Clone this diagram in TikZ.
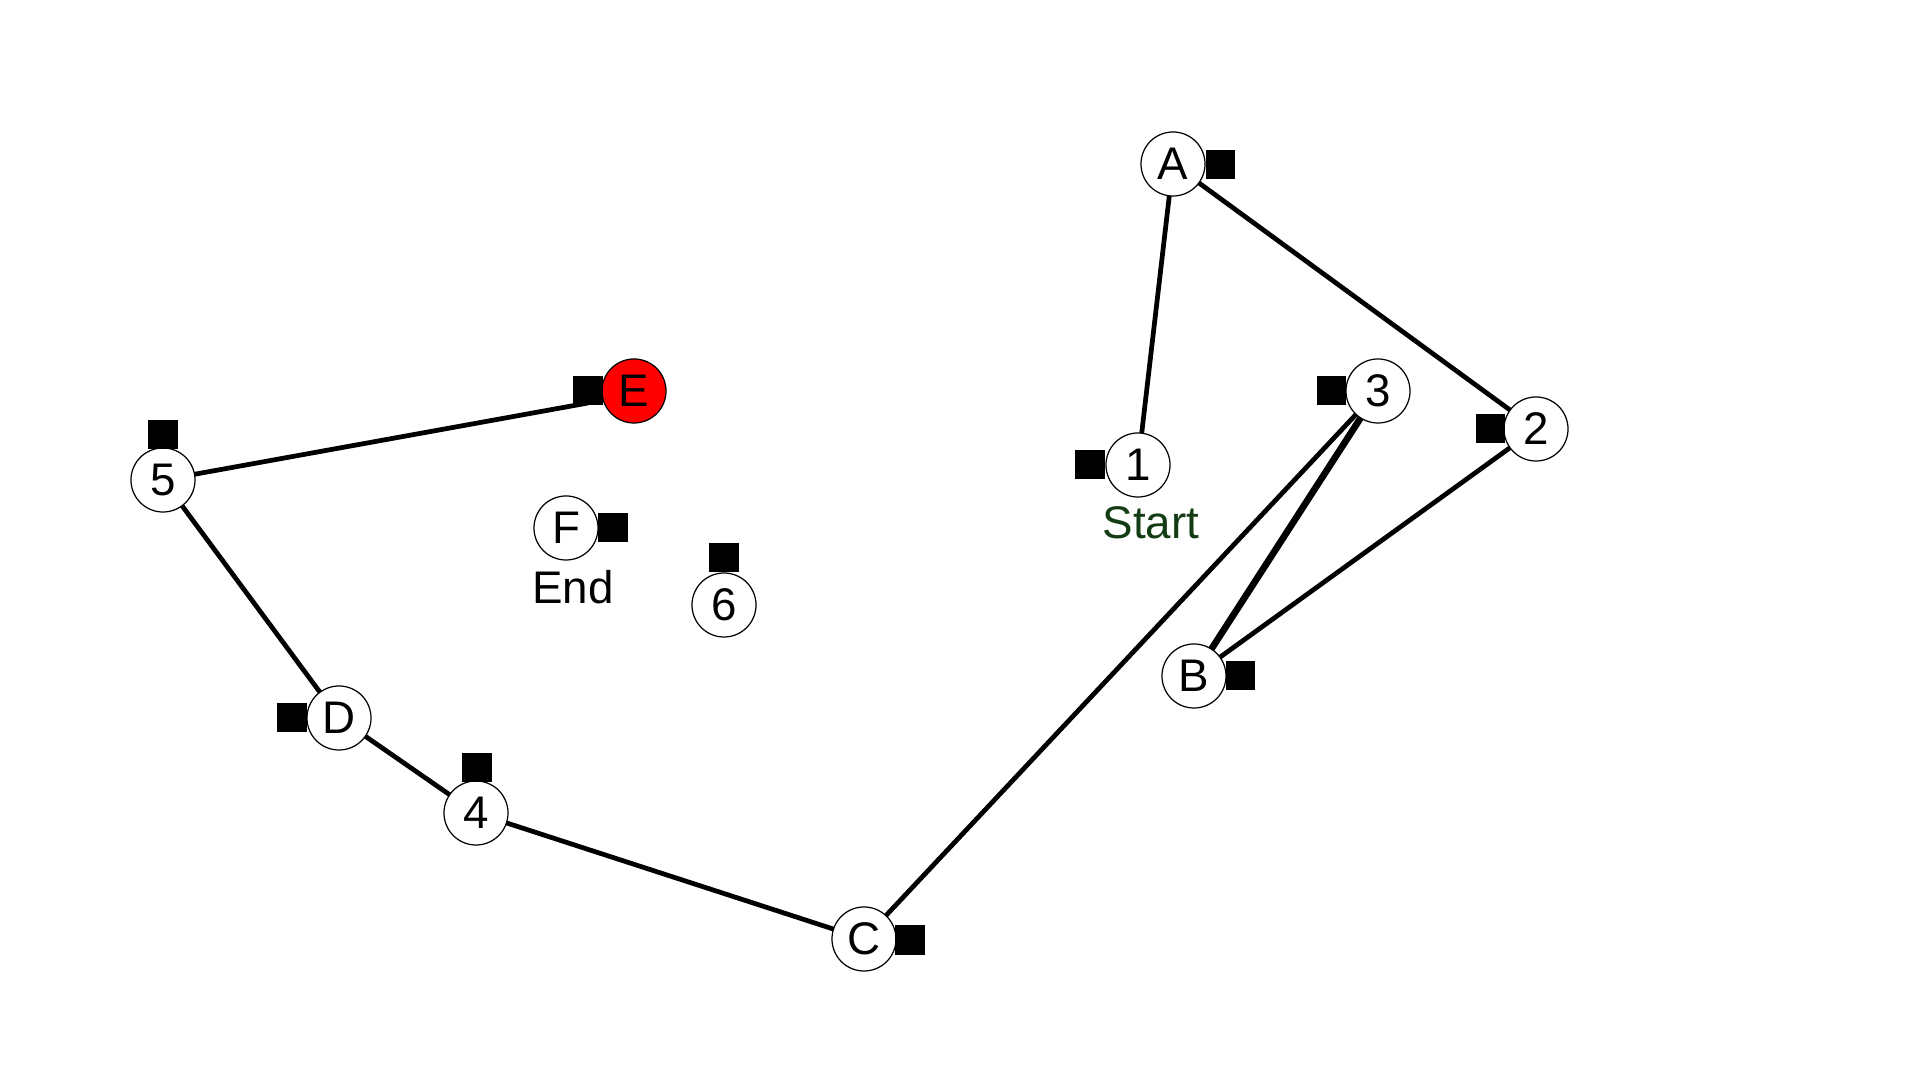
\documentclass[tikz,border=0pt]{standalone}
\usepackage{fontspec}
\setmainfont{Liberation Sans}
\begin{document}
\begin{tikzpicture}[x=0.01cm,y=-0.01cm,
  vtx/.style={circle,draw=black,line width=0.35pt,fill=white,minimum size=0.64cm,inner sep=0pt,font=\fontsize{13}{15}\selectfont},
  mk/.style={fill=black,minimum size=0.29cm,inner sep=0pt,rectangle},
  edge/.style={line width=1.35pt,black},
  lbl/.style={font=\fontsize{13}{15}\selectfont,inner sep=0pt}]
\useasboundingbox[fill=white] (0,0) rectangle (1920,1080);
\definecolor{startgreen}{RGB}{20,60,20}
\coordinate (pA) at (1173,164);
\coordinate (p1) at (1138,465);
\coordinate (p3) at (1378,391);
\coordinate (p2) at (1536,429);
\coordinate (pB) at (1194,676);
\coordinate (pC) at (864,939);
\coordinate (p4) at (476,813);
\coordinate (pD) at (339,718);
\coordinate (p5) at (163,480);
\coordinate (pE) at (634,391);
\coordinate (pF) at (566,528);
\coordinate (p6) at (724,605);
% edges
\draw[edge] (pA) -- (p1);
\draw[edge] (pA) -- (p2);
\draw[edge] (p3) -- (pC);
\draw[edge,line width=1.9pt] (p3) -- (pB);
\draw[edge] (p2) -- (pB);
\draw[edge] (p5) -- (588,403);
\draw[edge] (p5) -- (pD);
\draw[edge] (pD) -- (p4);
\draw[edge] (p4) -- (pC);
% nodes
\node[vtx] (A) at (pA) {A};
\node[vtx] (n1) at (p1) {1};
\node[vtx] (n3) at (p3) {3};
\node[vtx] (n2) at (p2) {2};
\node[vtx] (B) at (pB) {B};
\node[vtx] (C) at (pC) {C};
\node[vtx] (n4) at (p4) {4};
\node[vtx] (D) at (pD) {D};
\node[vtx] (n5) at (p5) {5};
\node[vtx,fill=red] (E) at (pE) {E};
\node[vtx] (F) at (pF) {F};
\node[vtx] (n6) at (p6) {6};
% markers
\node[mk] (mA) at (1220,165) {};
\node[mk] (m1) at (1090,465) {};
\node[mk] (m3) at (1331,391) {};
\node[mk] (m2) at (1490,429) {};
\node[mk] (mB) at (1240,676) {};
\node[mk] (mC) at (910,940) {};
\node[mk] (m4) at (477,768) {};
\node[mk] (mD) at (292,718) {};
\node[mk] (m5) at (163,435) {};
\node[mk] (mE) at (588,391) {};
\node[mk] (mF) at (613,528) {};
\node[mk] (m6) at (724,558) {};
% labels
\node[lbl,text=startgreen] (start) at (1151,523) {Start};
\node[lbl] (end) at (573,587) {End};
\end{tikzpicture}
\end{document}
